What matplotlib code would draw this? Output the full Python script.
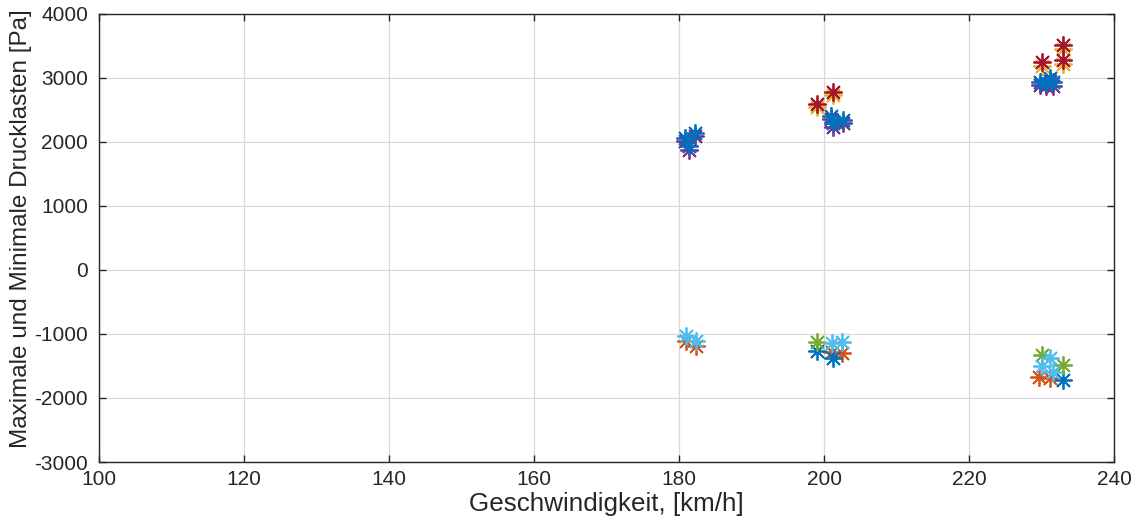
import matplotlib
matplotlib.use("Agg")
from matplotlib import pyplot as plt

# maxima (upper cluster)
v_max_gelb = [199.0, 201.2, 230.1, 233.0, 233.0]
p_max_gelb = [2540, 2730, 3190, 3460, 3220]
v_max_rot = [199.0, 201.2, 230.1, 233.0, 233.0]
p_max_rot = [2594, 2781, 3250, 3516, 3281]
v_max_lila = [180.8, 181.4, 182.2, 201.0, 201.2, 202.6, 229.8, 230.6, 231.2, 231.6]
p_max_lila = [2010, 1880, 2090, 2360, 2230, 2290, 2890, 2870, 2950, 2880]
v_max_blau = [180.8, 181.4, 182.2, 201.0, 201.2, 202.6, 229.8, 230.6, 231.2, 231.6]
p_max_blau = [2063, 1937, 2140, 2410, 2297, 2344, 2938, 2920, 3000, 2930]

# minima (lower cluster)
v_min_orange = [181.0, 182.3, 201.1, 202.5, 229.6, 231.2]
p_min_orange = [-1109, -1188, -1281, -1297, -1672, -1688]
v_min_blau = [199.0, 201.2, 233.0]
p_min_blau = [-1266, -1375, -1719]
v_min_gruen = [199.0, 230.1, 233.0]
p_min_gruen = [-1125, -1328, -1484]
v_min_hellblau = [181.0, 182.3, 201.1, 202.5, 230.0, 231.2, 231.6]
p_min_hellblau = [-1031, -1109, -1141, -1125, -1500, -1375, -1594]

farben = {
    "blau": "#0072BD", "orange": "#D95319", "gelb": "#EDB120", "lila": "#7E2F8E",
    "gruen": "#77AC30", "hellblau": "#4DBEEE", "rot": "#A2142F",
}

plt.rcParams["font.family"] = ["Liberation Sans", "DejaVu Sans"]
plt.rcParams["axes.unicode_minus"] = False

fig = plt.figure(figsize=(11.37, 5.28), dpi=100)
ax = fig.add_axes([0.0871, 0.125, 0.8927, 0.8485])

stern = (8, 2, 0)
kw = dict(linestyle="none", marker=stern, markersize=13, markeredgewidth=1.3)

ax.plot(v_max_gelb, p_max_gelb, color=farben["gelb"], **kw)
ax.plot(v_max_rot, p_max_rot, color=farben["rot"], **kw)
ax.plot(v_max_lila, p_max_lila, color=farben["lila"], **kw)
ax.plot(v_max_blau, p_max_blau, color=farben["blau"], **kw)

ax.plot(v_min_orange, p_min_orange, color=farben["orange"], **kw)
ax.plot(v_min_blau, p_min_blau, color=farben["blau"], **kw)
ax.plot(v_min_gruen, p_min_gruen, color=farben["gruen"], **kw)
ax.plot(v_min_hellblau, p_min_hellblau, color=farben["hellblau"], **kw)

ax.set_xlim(100, 240)
ax.set_ylim(-3000, 4000)
ax.set_xticks(range(100, 241, 20))
ax.set_yticks(range(-3000, 4001, 1000))
ax.grid(True, color="#d9d9d9", linewidth=0.9)
ax.set_axisbelow(True)
for s in ax.spines.values():
    s.set_color("#262626")
    s.set_linewidth(1.0)
ax.tick_params(direction="in", top=True, right=True, length=5, width=1.0,
               color="#262626", labelsize=15, labelcolor="#262626")
ax.tick_params(axis="y", pad=8)
ax.tick_params(axis="x", pad=6)

ax.set_xlabel("Geschwindigkeit, [km/h]", fontsize=18.7, color="#262626", labelpad=2)
ax.set_ylabel("Maximale und Minimale Drucklasten [Pa]", fontsize=17.5, color="#262626")
ax.yaxis.set_label_coords(-0.066, 0.52)

fig.savefig("out.png", dpi=100)
